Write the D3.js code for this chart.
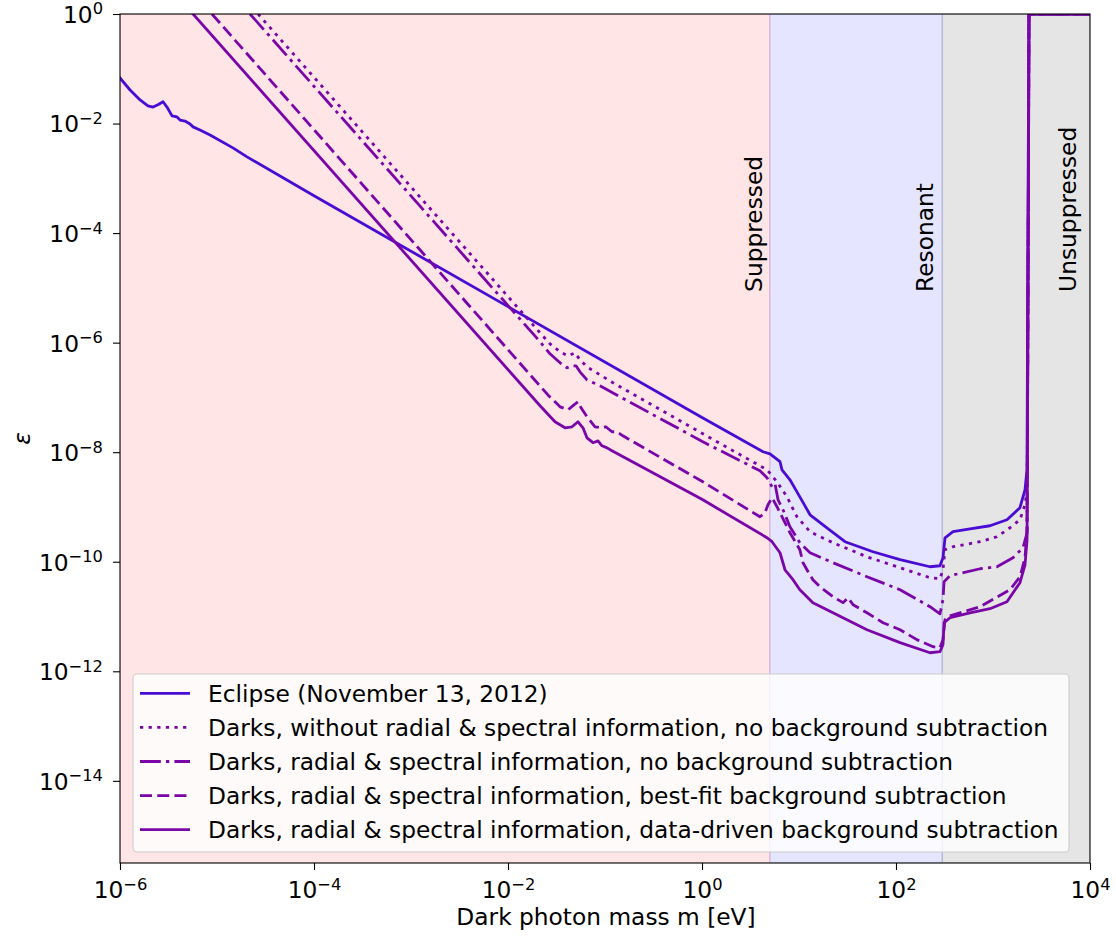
<!DOCTYPE html>
<html>
<head>
<meta charset="utf-8">
<script src="https://cdn.jsdelivr.net/npm/d3@7"></script>
<style>
  body { margin: 0; background: #ffffff; }
  svg { display: block; }
  text { font-family: "DejaVu Sans", sans-serif; fill: #000; }
</style>
</head>
<body>
<svg id="chart" width="1116" height="944"></svg>
<script>
// ---------------- data: dark photon mass m [eV] and kinetic mixing ε ----------------
const eclipseMass = [1e-6, 1.27e-6, 1.61e-6, 1.94e-6, 2.19e-6, 2.46e-6, 2.78e-6, 3.05e-6, 3.44e-6, 3.87e-6,
  4.16e-6, 4.68e-6, 5.27e-6, 5.66e-6, 6.68e-6, 8.48e-6, 1.46e-5, 2.04e-5, 1e-4, 1e-2,
  1, 4.26, 5.02, 6.37, 6.68, 8.07, 10.2, 13.0, 19.4, 29.8,
  57.9, 110, 224, 284, 305, 320, 387, 580, 931, 1394,
  1897, 2138, 2243, 2297, 2350, 1e4];
const eclipseEps = [6.8e-2, 4.1e-2, 2.7e-2, 2.1e-2, 2.0e-2, 2.2e-2, 2.5e-2, 2.0e-2, 1.38e-2, 1.32e-2,
  1.16e-2, 1.11e-2, 9.8e-3, 8.7e-3, 7.6e-3, 6.2e-3, 3.6e-3, 2.46e-3, 4.8e-4, 4.54e-6,
  4.3e-8, 1.02e-8, 9.35e-9, 6.7e-9, 4.77e-9, 3.13e-9, 1.53e-9, 7.2e-10, 4.17e-10, 2.32e-10,
  1.52e-10, 1.09e-10, 8.1e-11, 8.45e-11, 1.18e-10, 2.74e-10, 3.53e-10, 4.0e-10, 4.54e-10, 5.84e-10,
  9.7e-10, 2.06e-9, 4.8e-9, 4.0e-4, 1, 1];

// Darks, without radial & spectral information, no background subtraction
const darksPlainMass = [2.65e-5, 2.14e-2, 2.71e-2, 3.44e-2, 4.16e-2, 4.91e-2, 5.52e-2, 6.52e-2, 0.121, 1.02,
  4.68, 5.27, 5.93, 7.52, 9.53, 13.0, 22.4, 50.2, 110, 224,
  284, 305, 320, 387, 735, 1099, 1496, 1897, 2138, 2244,
  2296, 2350, 1e4];
const darksPlainEps = [1, 1.51e-6, 9.51e-7, 6.79e-7, 5.74e-7, 6.52e-7, 4.85e-7, 3.61e-7, 1.85e-7, 2.17e-8,
  4.77e-9, 3.71e-9, 2.88e-9, 1.53e-9, 6.62e-10, 3.53e-10, 2.22e-10, 1.23e-10, 7.78e-11, 5.11e-11,
  4.90e-11, 7.14e-11, 1.66e-10, 1.88e-10, 2.32e-10, 2.86e-10, 4.17e-10, 5.84e-10, 1.10e-9, 2.06e-9,
  6.04e-6, 1, 1];

// Darks, radial & spectral information, no background subtraction
const darksNoBgMass = [2.19e-5, 2.14e-2, 2.71e-2, 3.44e-2, 4.06e-2, 4.57e-2, 5.02e-2, 5.52e-2, 6.52e-2, 8.87e-2,
  1.02, 3.96, 4.68, 5.27, 5.66, 6.08, 6.84, 8.07, 10.2, 13.0,
  22.4, 50.2, 110, 224, 284, 305, 313, 361, 735, 1099,
  1607, 2037, 2244, 2296, 2350, 1e4];
const darksNoBgEps = [1, 1.04e-6, 6.25e-7, 4.28e-7, 3.47e-7, 3.78e-7, 3.78e-7, 2.93e-7, 2.09e-7, 1.63e-7,
  1.55e-8, 4.58e-9, 3.41e-9, 2.34e-9, 2.65e-9, 1.35e-9, 8.89e-10, 4.35e-10, 2.22e-10, 1.46e-10,
  9.59e-11, 5.32e-11, 3.08e-11, 1.51e-11, 1.12e-11, 2.03e-11, 4.32e-11, 5.56e-11, 7.45e-11, 8.10e-11,
  1.18e-10, 1.80e-10, 3.38e-10, 6.04e-6, 1, 1];

// Darks, radial & spectral information, best-fit background subtraction
const darksBestFitMass = [8.87e-6, 2.58e-2, 3.44e-2, 4.16e-2, 4.79e-2, 5.27e-2, 5.66e-2, 6.52e-2, 7.89e-2, 9.10e-2,
  0.102, 0.118, 0.133, 0.153, 1.02, 3.96, 4.46, 4.79, 5.27, 5.93,
  6.37, 8.07, 10.2, 11.0, 12.4, 13.9, 16.4, 22.4, 28.4, 32.0,
  36.1, 50.2, 73.5, 110, 164, 241, 284, 305, 320, 361,
  735, 1496, 1897, 2138, 2244, 2296, 2350, 1e4];
const darksBestFitEps = [1, 1.11e-7, 6.73e-8, 5.94e-8, 7.33e-8, 8.32e-8, 6.46e-8, 4.43e-8, 2.91e-8, 2.79e-8,
  2.91e-8, 2.36e-8, 2.36e-8, 1.99e-8, 2.88e-9, 6.62e-10, 7.83e-10, 1.10e-9, 1.47e-9, 1.01e-9,
  7.83e-10, 3.38e-10, 1.66e-10, 9.59e-11, 6.58e-11, 4.70e-11, 3.50e-11, 2.30e-11, 1.79e-11, 2.20e-11,
  1.64e-11, 1.17e-11, 7.71e-12, 5.74e-12, 3.78e-12, 2.81e-12, 2.70e-12, 3.78e-12, 8.75e-12, 1.03e-11,
  1.51e-11, 3.08e-11, 5.32e-11, 1.18e-10, 3.84e-10, 6.04e-6, 1, 1];

// Darks, radial & spectral information, data-driven background subtraction
const darksDataMass = [5.66e-6, 2.14e-2, 3.05e-2, 3.87e-2, 4.57e-2, 5.27e-2, 5.93e-2, 6.52e-2, 7.52e-2, 8.47e-2,
  9.31e-2, 0.105, 0.118, 1.02, 4.68, 5.27, 6.37, 7.17, 8.67, 10.2,
  13.9, 22.4, 50.2, 110, 224, 284, 305, 313, 361, 580,
  931, 1393, 1897, 2138, 2244, 2296, 2350, 1e4];
const darksDataEps = [1, 7.03e-8, 3.59e-8, 2.79e-8, 2.91e-8, 3.59e-8, 2.79e-8, 1.83e-8, 1.49e-8, 1.61e-8,
  1.31e-8, 1.20e-8, 1.06e-8, 1.35e-9, 2.74e-10, 2.32e-10, 1.46e-10, 7.14e-11, 4.70e-11, 3.08e-11,
  1.79e-11, 1.17e-11, 5.74e-12, 3.33e-12, 2.18e-12, 2.28e-12, 3.05e-12, 7.71e-12, 9.51e-12, 1.17e-11,
  1.39e-11, 1.86e-11, 4.14e-11, 8.81e-11, 2.52e-10, 6.04e-6, 1, 1];

const seriesLabels = [
  "Eclipse (November 13, 2012)",
  "Darks, without radial & spectral information, no background subtraction",
  "Darks, radial & spectral information, no background subtraction",
  "Darks, radial & spectral information, best-fit background subtraction",
  "Darks, radial & spectral information, data-driven background subtraction"
];

// plasma regimes along the mass axis
const regimeBounds = [1e-6, 5, 300, 1e4];
const regimeNames = ["Suppressed", "Resonant", "Unsuppressed"];
const regimeLabelMass = [4.16, 240, 7100];
const regimeLabelEps = 8.45e-6;

const xTickValues = [1e-6, 1e-4, 1e-2, 1e0, 1e2, 1e4];
const yTickValues = [1e0, 1e-2, 1e-4, 1e-6, 1e-8, 1e-10, 1e-12, 1e-14];
const massDomain = [1e-6, 1e4];
const epsDomain = [3.162e-16, 1];

// ---------------- layout & style ----------------
const W = 1116, H = 944;
const margin = { left: 120, right: 26, top: 14, bottom: 81 };
const FONT = 23.3;
const LW = 2.8;
const DASH = 3.25; // dash pattern scale
const eclipseColor = "#4a0cd3";
const darksColor = "#7a06a8";
const regimeFills = ["rgba(255,0,0,0.1)", "rgba(0,0,255,0.1)", "rgba(0,0,0,0.1)"];

const styles = [
  { color: eclipseColor, dash: null },
  { color: darksColor, dash: [1 * DASH, 1.65 * DASH] },
  { color: darksColor, dash: [6.4 * DASH, 1.6 * DASH, 1 * DASH, 1.6 * DASH] },
  { color: darksColor, dash: [3.7 * DASH, 1.6 * DASH] },
  { color: darksColor, dash: null }
];

const series = [
  [eclipseMass, eclipseEps],
  [darksPlainMass, darksPlainEps],
  [darksNoBgMass, darksNoBgEps],
  [darksBestFitMass, darksBestFitEps],
  [darksDataMass, darksDataEps]
].map(([m, e]) => m.map((v, i) => [v, e[i]]));

const svg = d3.select("#chart");
const x = d3.scaleLog().domain(massDomain).range([margin.left, W - margin.right]);
const y = d3.scaleLog().domain(epsDomain).range([H - margin.bottom, margin.top]);
const plotW = W - margin.left - margin.right;
const plotH = H - margin.top - margin.bottom;

svg.append("rect").attr("width", W).attr("height", H).attr("fill", "#ffffff");

svg.append("defs").append("clipPath").attr("id", "plotClip")
  .append("rect").attr("x", margin.left).attr("y", margin.top)
  .attr("width", plotW).attr("height", plotH);

// regime bands
const bands = svg.append("g").attr("clip-path", "url(#plotClip)");
regimeNames.forEach((name, i) => {
  bands.append("rect")
    .attr("x", x(regimeBounds[i]))
    .attr("y", margin.top)
    .attr("width", x(regimeBounds[i + 1]) - x(regimeBounds[i]))
    .attr("height", plotH)
    .attr("fill", regimeFills[i])
    .attr("stroke", regimeFills[i])
    .attr("stroke-width", 1.5);
});

// exclusion curves
const line = d3.line().x(d => x(d[0])).y(d => y(d[1]));
const curves = svg.append("g").attr("clip-path", "url(#plotClip)");
series.forEach((pts, i) => {
  curves.append("path")
    .attr("d", line(pts))
    .attr("fill", "none")
    .attr("stroke", styles[i].color)
    .attr("stroke-width", LW)
    .attr("stroke-linejoin", "round")
    .attr("stroke-linecap", styles[i].dash ? "butt" : "square")
    .attr("stroke-dasharray", styles[i].dash ? styles[i].dash.join(" ") : null);
});

// regime labels
regimeNames.forEach((name, i) => {
  const px = x(regimeLabelMass[i]), py = y(regimeLabelEps);
  svg.append("text")
    .attr("transform", `translate(${px},${py}) rotate(-90)`)
    .attr("text-anchor", "start")
    .attr("font-size", FONT)
    .text(name);
});

// power-of-ten tick labels
function powLabel(sel) {
  sel.each(function (d) {
    const t = d3.select(this);
    const e = Math.round(Math.log10(d));
    t.text(null);
    t.append("tspan").text("10");
    t.append("tspan").attr("dy", -8.5).attr("font-size", FONT * 0.7)
      .text(e < 0 ? "\u2212" + (-e) : String(e));
  });
}

const xAxis = svg.append("g")
  .attr("transform", `translate(0,${H - margin.bottom})`)
  .call(d3.axisBottom(x).tickValues(xTickValues).tickSize(7).tickSizeOuter(0));
xAxis.select(".domain").remove();
xAxis.selectAll(".tick line").attr("stroke", "#000").attr("stroke-width", 1.1);
xAxis.selectAll(".tick text")
  .attr("font-size", FONT).attr("font-family", "DejaVu Sans, sans-serif")
  .attr("fill", "#000").attr("y", 35).attr("dy", 0)
  .call(powLabel);

const yAxis = svg.append("g")
  .attr("transform", `translate(${margin.left},0)`)
  .call(d3.axisLeft(y).tickValues(yTickValues).tickSize(7).tickSizeOuter(0));
yAxis.select(".domain").remove();
yAxis.selectAll(".tick line").attr("stroke", "#000").attr("stroke-width", 1.1);
yAxis.selectAll(".tick text")
  .attr("font-size", FONT).attr("font-family", "DejaVu Sans, sans-serif")
  .attr("fill", "#000").attr("x", -17).attr("dy", 8.4)
  .call(powLabel);

// frame
svg.append("rect")
  .attr("x", margin.left).attr("y", margin.top)
  .attr("width", plotW).attr("height", plotH)
  .attr("fill", "none").attr("stroke", "#000").attr("stroke-width", 1.1);

// axis titles
svg.append("text")
  .attr("x", margin.left + plotW / 2 + 1).attr("y", 925)
  .attr("text-anchor", "middle").attr("font-size", FONT)
  .text("Dark photon mass m [eV]");
svg.append("text")
  .attr("transform", `translate(30,${margin.top + plotH / 2}) rotate(-90)`)
  .attr("text-anchor", "middle").attr("font-size", FONT)
  .attr("font-style", "italic")
  .text("ε");

// legend
const legend = svg.append("g");
const lgX = 133, lgY = 674, lgW = 936, lgH = 178, rowH = 34.1, firstRow = 693.3;
legend.append("rect")
  .attr("x", lgX).attr("y", lgY).attr("width", lgW).attr("height", lgH)
  .attr("rx", 4).attr("ry", 4)
  .attr("fill", "rgba(255,255,255,0.8)")
  .attr("stroke", "#cccccc").attr("stroke-width", 1.1);
seriesLabels.forEach((label, i) => {
  const cy = firstRow + i * rowH;
  legend.append("line")
    .attr("x1", 140).attr("x2", 190).attr("y1", cy).attr("y2", cy)
    .attr("stroke", styles[i].color).attr("stroke-width", LW)
    .attr("stroke-dasharray", styles[i].dash ? styles[i].dash.join(" ") : null);
  legend.append("text")
    .attr("x", 208).attr("y", cy + 8.3)
    .attr("font-size", FONT)
    .text(label);
});
</script>
</body>
</html>
